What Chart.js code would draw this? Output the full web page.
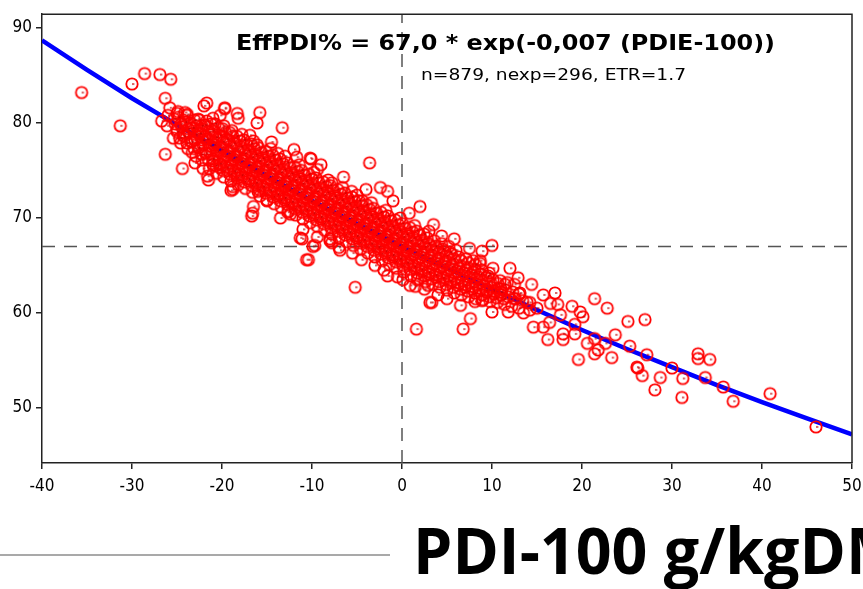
<!DOCTYPE html>
<html>
<head>
<meta charset="utf-8">
<script src="https://cdn.jsdelivr.net/npm/chart.js@4.4.1/dist/chart.umd.min.js"></script>
<style>
  body { margin: 0; background: #fff; }
  canvas { display: block; }
</style>
</head>
<body>
<canvas id="effChart" width="863" height="589"></canvas>
<script>
// axis ticks
var xTickValues = [-40, -30, -20, -10, 0, 10, 20, 30, 40, 50];
var yTickValues = [50, 60, 70, 80, 90];

// fitted curve
var fitX = [-40, -35, -30, -25, -20, -15, -10, -5, 0, 5, 10, 15, 20, 25, 30, 35, 40, 45, 50];
var fitY = [88.7, 85.6, 82.6, 79.8, 77.1, 74.4, 71.8, 69.4, 67.0, 64.7, 62.5, 60.3, 58.2, 56.2, 54.3, 52.4, 50.6, 48.9, 47.2];

// reference cross lines
var refLevel = 67.0;
var refPdi = 0;

// scattered observations (PDI-100, EffPDI%)
var outlierPts = [
  [-35.6,83.2],[-31.3,79.7],[-30.0,84.1],[-28.6,85.2],[-26.9,85.1],[-25.7,84.6],[-26.3,82.6],[-25.8,81.6],
  [-22.0,81.8],[-19.7,81.6],[-21.7,82.1],[-26.3,76.7],[-24.4,75.2],[-22.1,75.2],[-21.6,74.4],[-26.7,80.2],
  [-26.1,79.7],[-25.0,81.0],[-24.1,81.1],[-26.0,80.8],[-25.2,79.9],[-24.3,78.7],[-23.3,76.9],[-22.8,79.7],
  [-22.4,79.0],[-21.0,80.5],[-20.2,80.8],[-18.9,79.2],[-18.3,81.0],[-21.0,78.5],[-21.0,75.6],[-20.2,75.3],
  [-18.8,73.3],[-18.3,74.5],[-19.7,81.5],[-15.8,81.1],[-18.2,80.5],[-16.1,80.0],[-13.3,79.5],[-16.9,78.7],
  [-16.1,77.7],[-13.8,76.8],[-11.7,76.4],[-10.2,76.3],[-3.6,75.8],[-16.7,70.2],[-16.6,70.5],[-18.8,73.0],
  [-16.0,72.8],[-13.6,72.5],[-9.4,75.1],[-7.8,73.7],[-5.6,72.8],[-4.4,71.8],[-12.4,70.4],[-15.0,71.8],
  [-2.4,73.2],[-1.6,72.8],[2.0,71.2],[-10.4,65.6],[-7.8,67.4],[-9.7,67.1],[-11.1,67.8],[-5.2,62.7],
  [4.4,68.1],[10.0,67.1],[8.9,66.5],[10.1,64.7],[8.7,65.5],[-1.6,63.9],[0.1,63.5],[1.7,63.5],
  [2.9,62.9],[0.9,62.9],[-10.1,76.2],[1.6,58.3],[6.8,58.3],[7.6,59.4],[3.1,61.1],[12.0,64.7],
  [12.9,63.7],[14.4,63.0],[17.0,62.1],[21.4,61.5],[22.8,60.5],[25.1,59.1],[27.0,59.3],[23.7,57.7],
  [25.3,56.5],[27.2,55.6],[32.9,55.7],[32.9,55.2],[34.2,55.1],[19.6,55.1],[23.3,55.3],[26.1,54.3],
  [26.2,54.2],[26.7,53.4],[28.7,53.2],[28.1,51.9],[30.0,54.2],[31.2,53.1],[33.7,53.2],[31.1,51.1],
  [35.7,52.2],[36.8,50.7],[40.9,51.5],[46.0,48.0],[16.2,57.2],[17.9,57.2],[17.9,57.8],[19.2,57.8],
  [20.6,56.8],[21.4,55.7],[21.8,56.1],[14.6,58.5],[15.7,58.5],[17.6,59.8],[18.9,60.7],[19.8,60.1],
  [20.1,59.6],[17.3,60.9],[15.7,61.9],[14.2,61.1],[11.8,60.1],[10.0,60.1],[8.1,61.2],[8.9,61.3],
  [19.2,58.8],[21.4,57.3],[22.6,56.8],[3.3,61.1],[-11.3,67.9],[-10.6,65.6],[-9.9,67.0],[-9.4,68.0],
  [-12.7,70.6],[-8.0,67.6],[-6.9,66.6],[16.4,59.0],[13.5,60.0],[12.5,61.5],[11.0,62.5],[13.0,62.0],
  [15.0,60.5],[16.5,61.0],
  [-14.5,78.0],[-12.0,77.2],[-9.0,75.6],[-6.5,74.3],[-4.0,73.0],[-1.0,71.8],[0.8,70.5],[3.5,69.3],
  [5.8,67.8],[7.5,66.8],[-13.5,70.0],[-11.0,68.8],[-8.0,67.8],[-5.5,66.3],[-3.0,65.0],[-0.5,63.8],
  [2.5,62.5],[5.0,61.5],[-7.0,66.9],[-4.5,65.6],[-2.0,64.5],[1.5,62.8],[4.0,61.9],[6.5,60.8],
  [-16.5,71.2],[-19.0,72.9],[-21.5,74.0],[-23.0,75.8]
];

// dense band of observations, first pass
var bandPtsA = [
  [-25.4,78.4],[-25.0,79.3],[-25.3,80.4],[-24.9,81.2],
  [-24.6,77.9],[-24.2,78.9],[-24.5,79.6],[-24.3,80.3],
  [-23.8,77.3],[-23.4,78.1],[-23.7,79.0],[-23.5,80.0],[-23.9,80.8],
  [-22.9,76.5],[-22.6,77.4],[-23.0,78.2],[-22.7,78.9],[-22.5,80.3],
  [-22.2,76.1],[-21.8,76.9],[-22.1,77.7],[-21.9,78.6],[-22.3,79.4],[-21.7,80.2],
  [-21.4,75.2],[-21.0,76.0],[-21.3,76.8],[-21.1,77.5],[-21.5,78.3],[-20.9,79.1],[-21.2,79.9],
  [-20.6,74.7],[-20.2,75.6],[-20.5,76.3],[-20.3,77.1],[-20.7,77.9],[-20.1,78.6],[-20.4,79.5],
  [-19.8,74.3],[-19.4,75.0],[-19.7,75.9],[-19.5,76.6],[-19.9,77.4],[-19.3,78.2],[-19.6,79.0],[-19.8,79.7],
  [-19.0,73.9],[-18.6,74.7],[-18.9,75.5],[-18.7,76.2],[-19.1,77.0],[-18.5,77.8],[-18.8,78.6],
  [-18.2,73.5],[-17.8,74.3],[-18.1,75.0],[-17.9,75.8],[-18.3,76.5],[-17.7,77.3],[-18.0,78.1],[-17.8,78.8],
  [-17.4,73.1],[-17.0,73.9],[-17.3,74.7],[-17.1,75.4],[-17.5,76.2],[-16.9,76.9],[-17.2,77.7],
  [-16.6,72.7],[-16.2,73.5],[-16.5,74.2],[-16.3,75.0],[-16.7,75.8],[-16.1,76.5],[-16.4,77.3],[-16.5,78.1],
  [-15.8,72.3],[-15.4,73.1],[-15.7,73.8],[-15.5,74.6],[-15.9,75.4],[-15.3,76.1],[-15.6,76.9],
  [-15.0,71.9],[-14.6,72.7],[-14.9,73.5],[-14.7,74.2],[-15.1,75.0],[-14.5,75.7],[-14.8,76.5],[-14.6,77.3],
  [-14.2,71.5],[-13.8,72.3],[-14.1,73.0],[-13.9,73.8],[-14.3,74.6],[-13.7,75.3],[-14.0,76.1],
  [-13.4,71.1],[-13.0,71.9],[-13.3,72.6],[-13.1,73.4],[-13.5,74.2],[-12.9,74.9],[-13.2,75.7],[-13.0,76.5],
  [-12.6,70.7],[-12.2,71.5],[-12.5,72.2],[-12.3,73.0],[-12.7,73.8],[-12.1,74.5],[-12.4,75.3],
  [-11.8,70.3],[-11.4,71.1],[-11.7,71.8],[-11.5,72.6],[-11.9,73.4],[-11.3,74.1],[-11.6,74.9],[-11.4,75.6],
  [-11.0,69.9],[-10.6,70.7],[-10.9,71.4],[-10.7,72.2],[-11.1,73.0],[-10.5,73.7],[-10.8,74.5],
  [-10.2,69.5],[-9.8,70.3],[-10.1,71.0],[-9.9,71.8],[-10.3,72.6],[-9.7,73.3],[-10.0,74.1],[-9.8,74.8],
  [-9.4,69.1],[-9.0,69.9],[-9.3,70.6],[-9.1,71.4],[-9.5,72.2],[-8.9,72.9],[-9.2,73.7],
  [-8.6,68.7],[-8.2,69.5],[-8.5,70.2],[-8.3,71.0],[-8.7,71.8],[-8.1,72.5],[-8.4,73.3],[-8.2,74.0],
  [-7.8,68.3],[-7.4,69.1],[-7.7,69.8],[-7.5,70.6],[-7.9,71.4],[-7.3,72.1],[-7.6,72.9],
  [-7.0,67.9],[-6.6,68.7],[-6.9,69.4],[-6.7,70.2],[-7.1,71.0],[-6.5,71.7],[-6.8,72.5],[-6.6,73.2],
  [-6.2,67.5],[-5.8,68.3],[-6.1,69.0],[-5.9,69.8],[-6.3,70.6],[-5.7,71.3],[-6.0,72.1],
  [-5.4,67.1],[-5.0,67.9],[-5.3,68.6],[-5.1,69.4],[-5.5,70.2],[-4.9,70.9],[-5.2,71.7],[-5.0,72.4],
  [-4.6,66.7],[-4.2,67.5],[-4.5,68.2],[-4.3,69.0],[-4.7,69.8],[-4.1,70.5],[-4.4,71.3],
  [-3.8,66.3],[-3.4,67.1],[-3.7,67.8],[-3.5,68.6],[-3.9,69.4],[-3.3,70.1],[-3.6,70.9],[-3.4,71.6],
  [-3.0,65.9],[-2.6,66.7],[-2.9,67.4],[-2.7,68.2],[-3.1,69.0],[-2.5,69.7],[-2.8,70.5],
  [-2.2,65.5],[-1.8,66.3],[-2.1,67.0],[-1.9,67.8],[-2.3,68.6],[-1.7,69.3],[-2.0,70.1],[-1.8,70.8],
  [-1.4,65.1],[-1.0,65.9],[-1.3,66.6],[-1.1,67.4],[-1.5,68.2],[-0.9,68.9],[-1.2,69.7],
  [-0.6,64.7],[-0.2,65.5],[-0.5,66.2],[-0.3,67.0],[-0.7,67.8],[-0.1,68.5],[-0.4,69.3],[-0.2,70.0],
  [0.2,64.3],[0.6,65.1],[0.3,65.8],[0.5,66.6],[0.1,67.4],[0.7,68.1],[0.4,68.9],
  [1.0,63.9],[1.4,64.7],[1.1,65.4],[1.3,66.2],[0.9,67.0],[1.5,67.7],[1.2,68.5],[1.4,69.2],
  [1.8,63.6],[2.2,64.4],[1.9,65.1],[2.1,65.9],[1.7,66.7],[2.3,67.4],[2.0,68.2],
  [2.6,63.3],[3.0,64.1],[2.7,64.8],[2.9,65.6],[2.5,66.4],[3.1,67.1],[2.8,67.9],[3.0,68.6],
  [3.4,63.0],[3.8,63.8],[3.5,64.5],[3.7,65.3],[3.3,66.1],[3.9,66.8],[3.6,67.6],
  [4.2,62.7],[4.6,63.5],[4.3,64.2],[4.5,65.0],[4.1,65.8],[4.7,66.5],[4.4,67.3],
  [5.0,62.4],[5.4,63.2],[5.1,63.9],[5.3,64.7],[4.9,65.5],[5.5,66.2],[5.2,67.0],
  [5.8,62.1],[6.2,62.9],[5.9,63.6],[6.1,64.4],[5.7,65.2],[6.3,65.9],[6.0,66.6],
  [6.6,61.9],[7.0,62.7],[6.7,63.4],[6.9,64.2],[6.5,65.0],[7.1,65.7],
  [7.4,61.7],[7.8,62.5],[7.5,63.2],[7.7,64.0],[7.3,64.8],[7.9,65.5],
  [8.2,61.5],[8.6,62.3],[8.3,63.0],[8.5,63.8],[8.1,64.6],[8.7,65.2],
  [9.0,61.4],[9.4,62.2],[9.1,62.9],[9.3,63.7],[8.9,64.5],
  [9.8,61.2],[10.2,62.0],[9.9,62.7],[10.1,63.5],[9.7,64.2],
  [10.6,61.1],[11.0,61.9],[10.7,62.6],[10.9,63.4],
  [11.4,60.9],[11.8,61.7],[11.5,62.4],[11.7,63.2],
  [12.2,60.7],[12.6,61.5],[12.3,62.2],[12.5,63.0],
  [13.0,60.5],[13.4,61.3],[13.1,62.1],
  [14.2,60.3],[13.9,61.1]
];

// dense band, second pass (fills the gaps of the first)
var bandPtsB = [
  [-24.7,78.4],[-25.0,79.1],[-24.55,79.9],[-24.85,80.6],
  [-23.9,77.9],[-24.2,78.6],[-23.75,79.4],[-24.05,80.1],[-23.85,80.9],
  [-23.1,77.3],[-23.4,78.0],[-22.95,78.8],[-23.25,79.5],[-23.05,80.3],
  [-22.3,76.7],[-22.6,77.4],[-22.15,78.2],[-22.45,78.9],[-22.25,79.7],[-22.65,80.4],
  [-21.5,76.1],[-21.8,76.8],[-21.35,77.6],[-21.65,78.3],[-21.45,79.1],[-21.85,79.8],
  [-20.7,75.5],[-21.0,76.2],[-20.55,77.0],[-20.85,77.7],[-20.65,78.5],[-21.05,79.2],[-20.75,79.9],
  [-19.9,75.0],[-20.2,75.7],[-19.75,76.5],[-20.05,77.2],[-19.85,78.0],[-20.25,78.7],[-19.95,79.4],
  [-19.1,74.6],[-19.4,75.3],[-18.95,76.1],[-19.25,76.8],[-19.05,77.6],[-19.45,78.3],[-19.15,79.0],
  [-18.3,74.2],[-18.6,74.9],[-18.15,75.7],[-18.45,76.4],[-18.25,77.2],[-18.65,77.9],[-18.35,78.6],
  [-17.5,73.8],[-17.8,74.5],[-17.35,75.3],[-17.65,76.0],[-17.45,76.8],[-17.85,77.5],[-17.55,78.2],
  [-16.7,73.4],[-17.0,74.1],[-16.55,74.9],[-16.85,75.6],[-16.65,76.4],[-17.05,77.1],[-16.75,77.8],
  [-15.9,73.0],[-16.2,73.7],[-15.75,74.5],[-16.05,75.2],[-15.85,76.0],[-16.25,76.7],[-15.95,77.4],
  [-15.1,72.6],[-15.4,73.3],[-14.95,74.1],[-15.25,74.8],[-15.05,75.6],[-15.45,76.3],[-15.15,77.0],
  [-14.3,72.2],[-14.6,72.9],[-14.15,73.7],[-14.45,74.4],[-14.25,75.2],[-14.65,75.9],[-14.35,76.6],
  [-13.5,71.8],[-13.8,72.5],[-13.35,73.3],[-13.65,74.0],[-13.45,74.8],[-13.85,75.5],[-13.55,76.2],
  [-12.7,71.4],[-13.0,72.1],[-12.55,72.9],[-12.85,73.6],[-12.65,74.4],[-13.05,75.1],[-12.75,75.8],
  [-11.9,71.0],[-12.2,71.7],[-11.75,72.5],[-12.05,73.2],[-11.85,74.0],[-12.25,74.7],[-11.95,75.4],
  [-11.1,70.6],[-11.4,71.3],[-10.95,72.1],[-11.25,72.8],[-11.05,73.6],[-11.45,74.3],[-11.15,75.0],
  [-10.3,70.2],[-10.6,70.9],[-10.15,71.7],[-10.45,72.4],[-10.25,73.2],[-10.65,73.9],[-10.35,74.6],
  [-9.5,69.8],[-9.8,70.5],[-9.35,71.3],[-9.65,72.0],[-9.45,72.8],[-9.85,73.5],[-9.55,74.2],
  [-8.7,69.4],[-9.0,70.1],[-8.55,70.9],[-8.85,71.6],[-8.65,72.4],[-9.05,73.1],[-8.75,73.8],
  [-7.9,69.0],[-8.2,69.7],[-7.75,70.5],[-8.05,71.2],[-7.85,72.0],[-8.25,72.7],[-7.95,73.4],
  [-7.1,68.6],[-7.4,69.3],[-6.95,70.1],[-7.25,70.8],[-7.05,71.6],[-7.45,72.3],[-7.15,73.0],
  [-6.3,68.2],[-6.6,68.9],[-6.15,69.7],[-6.45,70.4],[-6.25,71.2],[-6.65,71.9],[-6.35,72.6],
  [-5.5,67.8],[-5.8,68.5],[-5.35,69.3],[-5.65,70.0],[-5.45,70.8],[-5.85,71.5],[-5.55,72.2],
  [-4.7,67.4],[-5.0,68.1],[-4.55,68.9],[-4.85,69.6],[-4.65,70.4],[-5.05,71.1],[-4.75,71.8],
  [-3.9,67.0],[-4.2,67.7],[-3.75,68.5],[-4.05,69.2],[-3.85,70.0],[-4.25,70.7],[-3.95,71.4],
  [-3.1,66.6],[-3.4,67.3],[-2.95,68.1],[-3.25,68.8],[-3.05,69.6],[-3.45,70.3],[-3.15,71.0],
  [-2.3,66.2],[-2.6,66.9],[-2.15,67.7],[-2.45,68.4],[-2.25,69.2],[-2.65,69.9],[-2.35,70.6],
  [-1.5,65.8],[-1.8,66.5],[-1.35,67.3],[-1.65,68.0],[-1.45,68.8],[-1.85,69.5],[-1.55,70.2],
  [-0.7,65.4],[-1.0,66.1],[-0.55,66.9],[-0.85,67.6],[-0.65,68.4],[-1.05,69.1],[-0.75,69.8],
  [0.1,65.0],[-0.2,65.7],[0.25,66.5],[-0.05,67.2],[0.15,68.0],[-0.25,68.7],[0.05,69.4],
  [0.9,64.6],[0.6,65.3],[1.05,66.1],[0.75,66.8],[0.95,67.6],[0.55,68.3],[0.85,69.0],
  [1.7,64.2],[1.4,64.9],[1.85,65.7],[1.55,66.4],[1.75,67.2],[1.35,67.9],[1.65,68.6],
  [2.5,63.9],[2.2,64.6],[2.65,65.4],[2.35,66.1],[2.55,66.9],[2.15,67.6],[2.45,68.3],
  [3.3,63.6],[3.0,64.3],[3.45,65.1],[3.15,65.8],[3.35,66.6],[2.95,67.3],
  [4.1,63.3],[3.8,64.0],[4.25,64.8],[3.95,65.5],[4.15,66.3],[3.75,67.0],
  [4.9,63.0],[4.6,63.7],[5.05,64.5],[4.75,65.2],[4.95,66.0],[4.55,66.7],
  [5.7,62.7],[5.4,63.4],[5.85,64.2],[5.55,64.9],[5.75,65.7],[5.35,66.4],
  [6.5,62.5],[6.2,63.2],[6.65,64.0],[6.35,64.7],[6.55,65.5],
  [7.3,62.3],[7.0,63.0],[7.45,63.8],[7.15,64.5],[7.35,65.3],
  [8.1,62.1],[7.8,62.8],[8.25,63.6],[7.95,64.3],[8.15,65.1],
  [8.9,61.9],[8.6,62.6],[9.05,63.4],[8.75,64.1],
  [9.7,61.7],[9.4,62.4],[9.85,63.2],[9.55,63.9],
  [10.5,61.6],[10.2,62.3],[10.65,63.1],
  [11.3,61.5],[11.0,62.2],[11.45,63.0]
];

var yMin = 44.2, yMax = 91.45;

// red open circle with the little dash inside
function makeMarker() {
    var c = document.createElement('canvas');
    c.width = 16; c.height = 16;
    var g = c.getContext('2d');
    g.strokeStyle = '#ff0000';
    g.lineWidth = 1.8;
    g.beginPath();
    g.arc(8, 8, 5.7, 0, Math.PI * 2);
    g.stroke();
    g.fillStyle = '#c00000';
    g.fillRect(8, 7.4, 2.4, 1.2);
    return c;
}

// draw text stretched/squeezed to a given width
function fitText(ctx, text, x, y, width, measureText) {
    var w = ctx.measureText(measureText || text).width;
    ctx.save();
    ctx.translate(x, y);
    ctx.scale(width / w, 1);
    ctx.fillText(text, 0, 0);
    ctx.restore();
}

var decorPlugin = {
    id: 'decor',
    afterDraw: function (chart) {
        var ctx = chart.ctx;
        var a = chart.chartArea;
        ctx.save();
        // top and right frame
        ctx.strokeStyle = '#222';
        ctx.lineWidth = 1.5;
        ctx.beginPath();
        ctx.moveTo(a.left, a.top);
        ctx.lineTo(a.right, a.top);
        ctx.lineTo(a.right, a.bottom);
        ctx.stroke();

        ctx.fillStyle = '#000';
        ctx.textBaseline = 'alphabetic';
        ctx.font = 'bold 22px "DejaVu Sans Condensed", "DejaVu Sans", sans-serif';
        fitText(ctx, 'EffPDI% = 67,0 * exp(-0,007 (PDIE-100))', 236, 50, 539);
        ctx.font = '16px "DejaVu Sans Condensed", "DejaVu Sans", sans-serif';
        fitText(ctx, 'n=879, nexp=296, ETR=1.7', 421, 80, 265);

        // grey rule and big axis caption at the bottom
        ctx.strokeStyle = '#8c8c8c';
        ctx.lineWidth = 1.5;
        ctx.beginPath();
        ctx.moveTo(0, 555);
        ctx.lineTo(390, 555);
        ctx.stroke();
        ctx.font = 'bold 64px "Open Sans", sans-serif';
        fitText(ctx, 'PDI-100 g/kgDM', 413, 574, 433, 'PDI-100 g/kgD');
        ctx.restore();
    }
};

var marker = makeMarker();
var obs = outlierPts.concat(bandPtsA, bandPtsB).map(function (p) { return { x: p[0], y: p[1] }; });
var fitLine = fitX.map(function (x, i) { return { x: x, y: fitY[i] }; });

var ctx = document.getElementById('effChart').getContext('2d');
var effChart = new Chart(ctx, {
    type: 'scatter',
    data: {
        datasets: [{
            label: 'observations',
            data: obs,
            pointStyle: marker,
            pointRadius: 6,
            order: 1
        }, {
            type: 'line',
            label: 'fit',
            data: fitLine,
            borderColor: '#0000ff',
            borderWidth: 4.5,
            pointRadius: 0,
            tension: 0,
            fill: false,
            order: 2
        }, {
            type: 'line',
            label: 'hline',
            data: [{ x: xTickValues[0], y: refLevel }, { x: xTickValues[xTickValues.length - 1], y: refLevel }],
            borderColor: '#555',
            borderWidth: 1.5,
            borderDash: [13, 9],
            pointRadius: 0,
            order: 3
        }, {
            type: 'line',
            label: 'vline',
            data: [{ x: refPdi, y: yMin }, { x: refPdi, y: yMax }],
            borderColor: '#555',
            borderWidth: 1.5,
            borderDash: [13, 9],
            pointRadius: 0,
            order: 3
        }]
    },
    options: {
        responsive: false,
        animation: false,
        layout: { padding: { top: 7, right: 11, left: 0, bottom: 0 } },
        plugins: { legend: { display: false }, tooltip: { enabled: false } },
        scales: {
            x: {
                type: 'linear',
                min: -40,
                max: 50,
                afterBuildTicks: function (s) { s.ticks = xTickValues.map(function (v) { return { value: v }; }); },
                afterFit: function (s) { s.height = 126; s.paddingLeft = 0; s.paddingRight = 0; },
                grid: { drawOnChartArea: false, drawTicks: true, tickLength: 6, color: '#222', lineWidth: 1.5 },
                border: { display: true, color: '#222', width: 1.5 },
                ticks: {
                    color: '#000',
                    padding: 7,
                    maxRotation: 0,
                    font: { family: '"DejaVu Sans Condensed", "DejaVu Sans", sans-serif', size: 17 }
                }
            },
            y: {
                type: 'linear',
                min: yMin,
                max: yMax,
                afterBuildTicks: function (s) { s.ticks = yTickValues.map(function (v) { return { value: v }; }); },
                afterFit: function (s) { s.width = 42; },
                grid: { drawOnChartArea: false, drawTicks: true, tickLength: 6, color: '#222', lineWidth: 1.5 },
                border: { display: true, color: '#222', width: 1.5 },
                ticks: {
                    color: '#000',
                    padding: 4,
                    font: { family: '"DejaVu Sans Condensed", "DejaVu Sans", sans-serif', size: 17 }
                }
            }
        }
    },
    plugins: [decorPlugin]
});
</script>
</body>
</html>
